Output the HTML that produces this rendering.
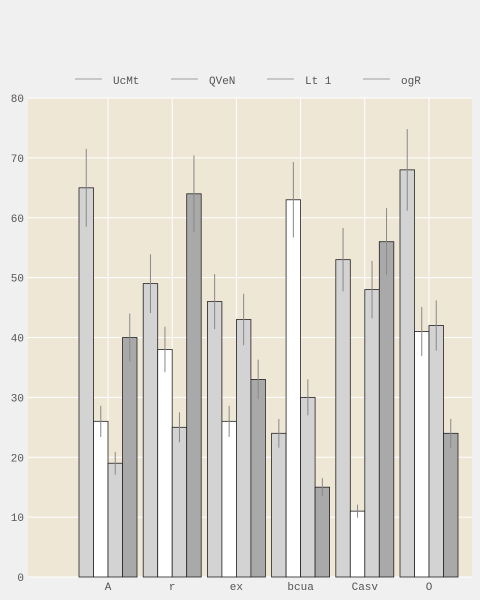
<!DOCTYPE html>
<html><head><meta charset="utf-8"><style>
body{margin:0;background:#f0f0f0;}
svg{display:block;font-family:"Liberation Mono",monospace;}
</style></head><body>
<svg id="chart" width="480" height="600">
<rect x="0" y="0" width="480" height="600" fill="#f0f0f0"/>
<rect x="28" y="98" width="444" height="479" fill="#efe7d6"/>
<g id="grid"></g><g id="bars"></g><g id="axes"></g><g id="legend"></g>
</svg>
<script>
const categories = ["A","r","ex","bcua","Casv","O"];
const seriesNames = ["UcMt","QVeN","Lt 1","ogR"];
const s1 = [65,49,46,24,53,68];
const s2 = [26,38,26,63,11,41];
const s3 = [19,25,43,30,48,42];
const s4 = [40,64,33,15,56,24];
const e1 = [6.5,4.9,4.6,2.4,5.3,6.8];
const e2 = [2.6,3.8,2.6,6.3,1.1,4.1];
const e3 = [1.9,2.5,4.3,3.0,4.8,4.2];
const e4 = [4.0,6.4,3.3,1.5,5.6,2.4];
const yTicks = [0,10,20,30,40,50,60,70,80];
const series=[s1,s2,s3,s4], errs=[e1,e2,e3,e4];
const colors=["#d3d3d3","#ffffff","#d3d3d3","#a9a9a9"];
const NS="http://www.w3.org/2000/svg";
const y0=577,yTop=98,yMax=80;
function yScale(v){return y0-(v/yMax)*(y0-yTop);}
function xCenter(i){return 108+i*64.2;}
const bw=14.5;
function mk(t,a,p){const e=document.createElementNS(NS,t);for(const k in a)e.setAttribute(k,a[k]);p.appendChild(e);return e;}
const grid=document.getElementById('grid'),bars=document.getElementById('bars'),axes=document.getElementById('axes'),leg=document.getElementById('legend');
yTicks.forEach(t=>{
  const g=mk('line',{x1:28,x2:472,y1:yScale(t),y2:yScale(t),stroke:'#ffffff','stroke-width':1},grid);
  
  
  const tx=mk('text',{x:24,y:yScale(t)+4,'text-anchor':'end','font-size':11,fill:'#555'},axes);
  tx.textContent=t;
  
  
});
categories.forEach((c,i)=>{
  const g=mk('line',{x1:xCenter(i),x2:xCenter(i),y1:98,y2:577,stroke:'#ffffff','stroke-width':1},grid);
  
  
  const tx=mk('text',{x:xCenter(i),y:590,'text-anchor':'middle','font-size':11,fill:'#555'},axes);
  tx.textContent=c;
  
  
  series.forEach((s,j)=>{
    const x=xCenter(i)-2*bw+j*bw;
    const r=mk('rect',{x:x,y:yScale(s[i]),width:bw,height:y0-yScale(s[i]),fill:colors[j],stroke:'#222','stroke-width':0.8},bars);
    
    
    const el=mk('line',{x1:x+bw/2,x2:x+bw/2,y1:yScale(s[i]+errs[j][i]),y2:yScale(s[i]-errs[j][i]),stroke:'#888','stroke-width':1},bars);
    
    
  });
});
seriesNames.forEach((n,j)=>{
  const x=75+j*96;
  const l=mk('line',{x1:x,x2:x+27,y1:79,y2:79,stroke:'#bbb','stroke-width':1.5},leg);
  
  
  const t=mk('text',{x:x+38,y:84,'font-size':11,fill:'#555'},leg);
  t.textContent=n;
  
  
});
</script>
</body></html>
